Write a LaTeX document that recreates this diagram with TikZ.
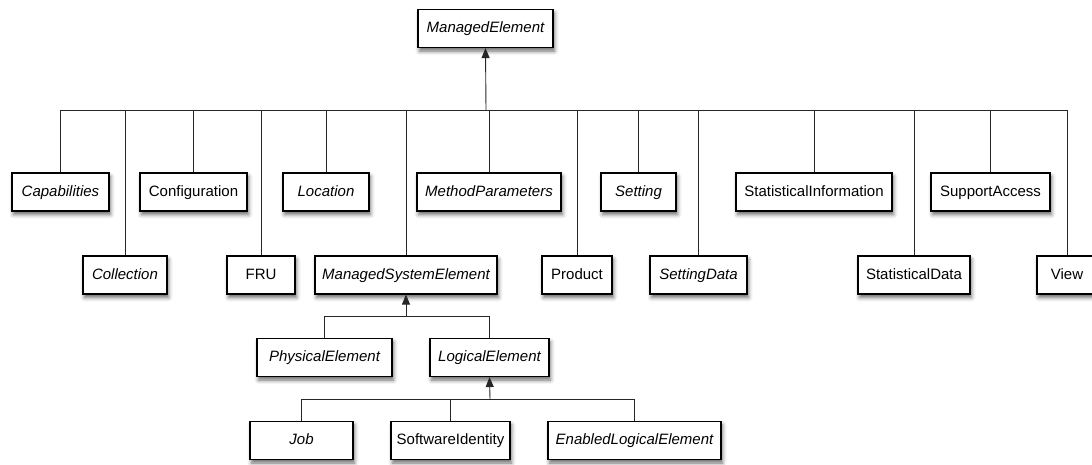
\documentclass[tikz,border=0pt]{standalone}
\usepackage{fontspec}
\setmainfont{Liberation Sans}
\usetikzlibrary{shadows.blur,arrows.meta}
\begin{document}
\begin{tikzpicture}[x=1pt,y=-1pt,
  cls/.style={draw=black, line width=1.1pt, fill=white, minimum height=38pt,
    inner sep=0pt, text height=11pt, text depth=3pt,
    font=\fontsize{15}{18}\selectfont,
    blur shadow={shadow xshift=1.5pt, shadow yshift=-3.5pt,
      shadow blur radius=4pt, shadow opacity=60}},
  abs/.style={cls, font=\fontsize{15}{18}\selectfont\itshape},
  link/.style={draw=black!85, line width=0.9pt},
  inherit/.style={link, -{Triangle[length=10pt,width=8pt]}}]
\useasboundingbox (0,0) rectangle (1092,464);

% root
\node[abs, minimum width=135pt] (me) at (485.5,28.5) {ManagedElement};

% first level, upper row
\node[abs, minimum width=97pt]  (cap)  at (60.5,192)  {Capabilities};
\node[cls, minimum width=107pt] (conf) at (193.5,192) {Configuration};
\node[abs, minimum width=86pt]  (loc)  at (326,192)   {Location};
\node[abs, minimum width=144pt] (mp)   at (489,192)   {MethodParameters};
\node[abs, minimum width=75pt]  (set)  at (638.5,192) {Setting};
\node[cls, minimum width=156pt] (si)   at (814,192)   {StatisticalInformation};
\node[cls, minimum width=119pt] (sa)   at (990.5,192) {SupportAccess};

% first level, lower row
\node[abs, minimum width=84pt]  (col)  at (125,275)   {Collection};
\node[cls, minimum width=68pt]  (fru)  at (261,275)   {FRU};
\node[abs, minimum width=182pt] (mse)  at (406,275)   {ManagedSystemElement};
\node[cls, minimum width=70pt]  (prod) at (577,275)   {Product};
\node[abs, minimum width=97pt]  (sd)   at (698.5,275) {SettingData};
\node[cls, minimum width=112pt] (stat) at (914,275)   {StatisticalData};
\node[cls, minimum width=60pt]  (view) at (1067,275)  {View};

% second level
\node[abs, minimum width=135pt] (pe) at (324.5,357.5) {PhysicalElement};
\node[abs, minimum width=119pt] (le) at (489.5,357.5) {LogicalElement};

% third level
\node[abs, minimum width=103pt] (job) at (301.5,440.5) {Job};
\node[cls, minimum width=119pt] (sw)  at (450.5,440.5) {SoftwareIdentity};
\node[abs, minimum width=173pt] (ele) at (634.5,440.5) {EnabledLogicalElement};

% bus junctions
\coordinate (b1) at (486,110);
\coordinate (b2) at (406,316);
\coordinate (b3) at (490,399);

% generalisation trees
\foreach \c in {cap,conf,loc,mp,set,si,sa,col,fru,mse,prod,sd,stat,view}
  \draw[link] (\c.north) |- (b1);
\draw[inherit] (b1) -- (me.south);

\foreach \c in {pe,le}
  \draw[link] (\c.north) |- (b2);
\draw[inherit] (b2) -- (mse.south);

\foreach \c in {job,sw,ele}
  \draw[link] (\c.north) |- (b3);
\draw[inherit] (b3) -- (le.south);
\end{tikzpicture}
\end{document}
